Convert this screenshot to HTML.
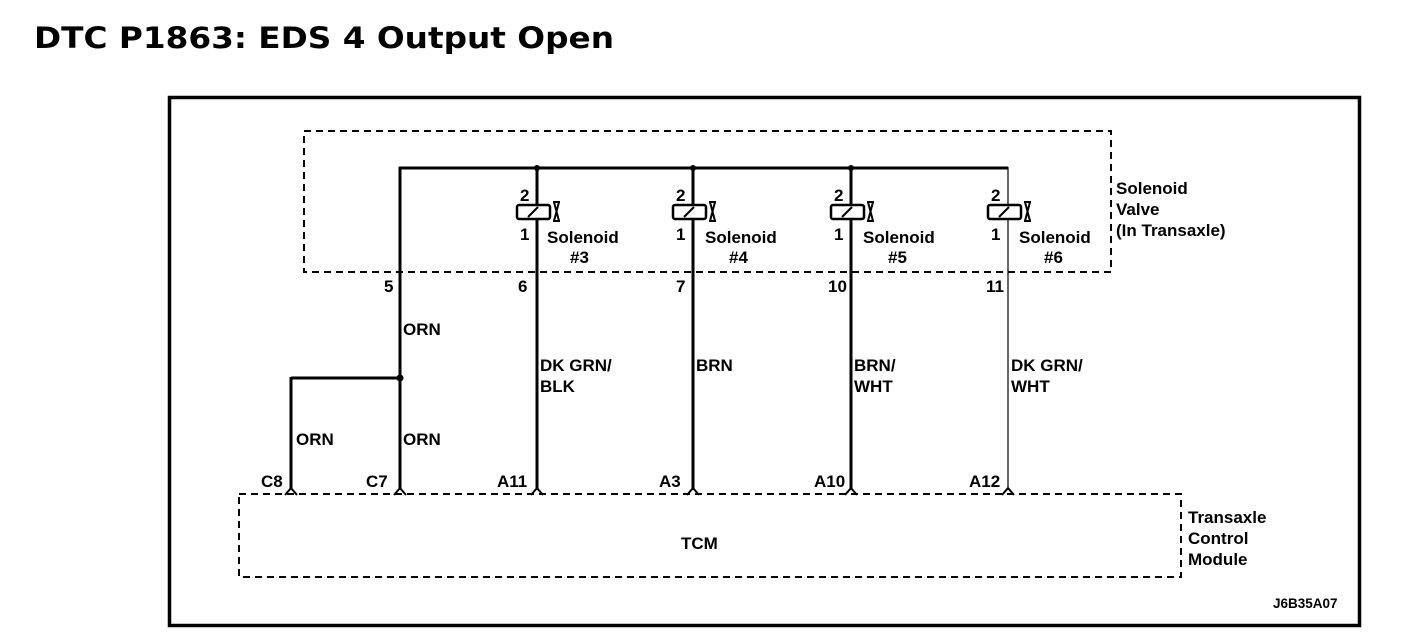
<!DOCTYPE html>
<html><head><meta charset="utf-8"><style>
html,body{margin:0;padding:0;background:#fff;}
svg{display:block;}
text{font-family:"Liberation Sans",Arial,sans-serif;font-weight:bold;fill:#000;}
</style></head><body>
<svg width="1408" height="632" viewBox="0 0 1408 632" xmlns="http://www.w3.org/2000/svg">
<text x="34" y="48" style="font-family:'DejaVu Sans',sans-serif;font-size:29px;font-weight:bold" textLength="580" lengthAdjust="spacingAndGlyphs">DTC P1863: EDS 4 Output Open</text>
<rect x="169.5" y="97.5" width="1190" height="528" fill="none" stroke="#000" stroke-width="3.5"/>
<rect x="304" y="131" width="807" height="141" fill="none" stroke="#000" stroke-width="2" stroke-dasharray="7,5"/>
<rect x="239" y="494" width="942" height="83" fill="none" stroke="#000" stroke-width="2" stroke-dasharray="7,5"/>
<g stroke="#000" fill="none">
<line x1="399" y1="168" x2="1008" y2="168" stroke-width="3"/>
<line x1="400" y1="167" x2="400" y2="490" stroke-width="3"/>
<line x1="291" y1="378" x2="400" y2="378" stroke-width="3"/>
<line x1="291" y1="377" x2="291" y2="490" stroke-width="3"/>
<line x1="537" y1="167" x2="537" y2="490" stroke-width="3"/>
<line x1="693" y1="167" x2="693" y2="490" stroke-width="3"/>
<line x1="851" y1="167" x2="851" y2="490" stroke-width="3"/>
<line x1="1008" y1="167" x2="1008" y2="490" stroke-width="1.2"/>
</g>
<g fill="#000">
<circle cx="537" cy="168" r="3"/><circle cx="693" cy="168" r="3"/><circle cx="851" cy="168" r="3"/><circle cx="400" cy="378" r="3.5"/>
</g>
<g stroke="#000" stroke-width="2" fill="none">
<path d="M285 495 L291 488 L297 495"/><path d="M394 495 L400 488 L406 495"/>
<path d="M531 495 L537 488 L543 495"/><path d="M687 495 L693 488 L699 495"/>
<path d="M845 495 L851 488 L857 495"/><path d="M1002 495 L1008 488 L1014 495"/>
</g>
<g>
<g id="c3" stroke="#000" fill="#fff" stroke-width="2.5">
<rect x="517" y="205" width="33" height="14" rx="2"/>
<line x1="528" y1="217" x2="538" y2="207" stroke-width="2"/>
<path d="M553 202 h7 M553 221 h7 M554 202 L559 221 M559 202 L554 221" stroke-width="2"/>
</g>
<use href="#c3" x="156"/><use href="#c3" x="314"/><use href="#c3" x="471"/>
</g>
<g font-size="17">
<text x="520" y="201">2</text><text x="520" y="240">1</text>
<text x="676" y="201">2</text><text x="676" y="240">1</text>
<text x="834" y="201">2</text><text x="834" y="240">1</text>
<text x="991" y="201">2</text><text x="991" y="240">1</text>
<text x="547" y="243">Solenoid</text><text x="570" y="263">#3</text>
<text x="705" y="243">Solenoid</text><text x="729" y="263">#4</text>
<text x="863" y="243">Solenoid</text><text x="888" y="263">#5</text>
<text x="1019" y="243">Solenoid</text><text x="1044" y="263">#6</text>
<text x="1116" y="194">Solenoid</text><text x="1116" y="215">Valve</text><text x="1116" y="236">(In Transaxle)</text>
<text x="384" y="292">5</text><text x="518" y="292">6</text><text x="676" y="292">7</text><text x="828" y="292">10</text><text x="986" y="292">11</text>
<text x="403" y="335">ORN</text>
<text x="540" y="371">DK GRN/</text><text x="540" y="392">BLK</text>
<text x="696" y="371">BRN</text>
<text x="854" y="371">BRN/</text><text x="854" y="392">WHT</text>
<text x="1011" y="371">DK GRN/</text><text x="1011" y="392">WHT</text>
<text x="296" y="445">ORN</text><text x="403" y="445">ORN</text>
<text x="261" y="487">C8</text><text x="366" y="487">C7</text><text x="497" y="487">A11</text><text x="659" y="487">A3</text><text x="814" y="487">A10</text><text x="969" y="487">A12</text>
<text x="681" y="549">TCM</text>
<text x="1188" y="523">Transaxle</text><text x="1188" y="544">Control</text><text x="1188" y="565">Module</text>
</g>
<text x="1273" y="608" font-size="13.5">J6B35A07</text>
</svg>
</body></html>
